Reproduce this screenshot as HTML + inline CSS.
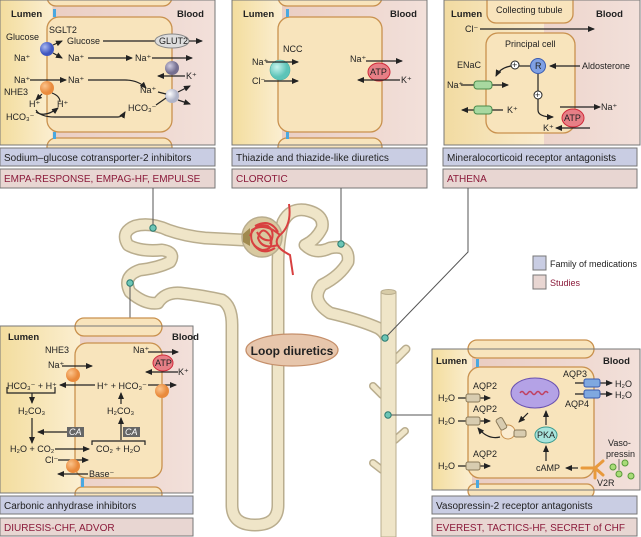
<!DOCTYPE html>
<html><head><meta charset="utf-8"><style>
html,body{margin:0;padding:0;background:#fff;}
svg{display:block;font-family:"Liberation Sans",sans-serif;}
.t{font-size:9px;fill:#222;}
.b{font-size:9.5px;font-weight:bold;fill:#222;}
.lab{font-size:10px;fill:#222;}
.st{font-size:10px;fill:#8b1a3a;}
.ar{stroke:#222;stroke-width:1.2;fill:none;marker-end:url(#ah);}
.ln{stroke:#222;stroke-width:1.2;fill:none;}
.cell{fill:#f8e4bc;stroke:#c9914e;stroke-width:1.3;}
.tube{fill:none;stroke:#b9ad8e;stroke-width:13;stroke-linecap:round;stroke-linejoin:round;}
.tubei{fill:none;stroke:#efe5c8;stroke-width:10;stroke-linecap:round;stroke-linejoin:round;}
</style></head><body>
<svg width="641" height="537" viewBox="0 0 641 537" xmlns="http://www.w3.org/2000/svg">
<defs>
<marker id="ah" markerWidth="7" markerHeight="6" refX="6" refY="3" orient="auto" markerUnits="userSpaceOnUse"><path d="M0,0L7,3L0,6z" fill="#222"/></marker>
<linearGradient id="lum" x1="0" x2="1"><stop offset="0" stop-color="#f3dd9e"/><stop offset="1" stop-color="#fbeed0"/></linearGradient>
<linearGradient id="blo" x1="0" x2="1"><stop offset="0" stop-color="#e8c8bc"/><stop offset="1" stop-color="#f2e0da"/></linearGradient>
<radialGradient id="blue" cx=".35" cy=".35"><stop offset="0" stop-color="#a9b8f0"/><stop offset="1" stop-color="#3f56c0"/></radialGradient>
<radialGradient id="org" cx=".35" cy=".35"><stop offset="0" stop-color="#fbc48c"/><stop offset="1" stop-color="#e98a3c"/></radialGradient>
<radialGradient id="gry" cx=".35" cy=".35"><stop offset="0" stop-color="#cfcbe0"/><stop offset="1" stop-color="#756f90"/></radialGradient>
<radialGradient id="wht" cx=".35" cy=".35"><stop offset="0" stop-color="#fff"/><stop offset="1" stop-color="#b0b4c8"/></radialGradient>
<radialGradient id="tea" cx=".35" cy=".35"><stop offset="0" stop-color="#c8f4ee"/><stop offset="1" stop-color="#5cc4b8"/></radialGradient>
</defs>

<!-- ============ TOP LEFT PANEL ============ -->
<rect x="0" y="0" width="215" height="145" fill="url(#blo)" stroke="#777"/>
<rect x="0.5" y="0.5" width="52" height="144" fill="url(#lum)"/>
<rect x="47" y="-12" width="125" height="18" rx="9" class="cell"/>
<rect x="47" y="17" width="125" height="115" rx="12" class="cell"/>
<rect x="47" y="138" width="125" height="20" rx="9" class="cell"/>
<rect x="0" y="0" width="215" height="145" fill="none" stroke="#777"/>
<rect x="53" y="9" width="3" height="8" fill="#4aa8e0"/><rect x="53" y="132" width="3" height="7" fill="#4aa8e0"/>
<text x="11" y="17" class="b">Lumen</text><text x="177" y="17" class="b">Blood</text>
<text x="49" y="33" class="t">SGLT2</text>
<text x="6" y="40" class="t">Glucose</text>
<text x="67" y="44" class="t">Glucose</text>
<line x1="103" y1="41" x2="155" y2="41" class="ln"/>
<ellipse cx="172" cy="41" rx="17" ry="7" fill="#ddd" stroke="#888"/><text x="159" y="44" class="t">GLUT2</text>
<line x1="189" y1="41" x2="202" y2="41" class="ar"/>
<text x="14" y="61" class="t">Na⁺</text>
<circle cx="47" cy="49" r="7" fill="url(#blue)"/>
<path d="M53,45 L62,41" class="ar"/><path d="M53,53 L62,58" class="ar"/>
<text x="68" y="61" class="t">Na⁺</text><line x1="88" y1="58" x2="132" y2="58" class="ar"/>
<text x="135" y="61" class="t">Na⁺</text><line x1="152" y1="58" x2="192" y2="58" class="ar"/>
<circle cx="172" cy="68" r="7" fill="url(#gry)"/>
<line x1="185" y1="76" x2="158" y2="76" class="ar"/><text x="186" y="79" class="t">K⁺</text>
<text x="14" y="83" class="t">Na⁺</text><line x1="30" y1="80" x2="66" y2="80" class="ar"/>
<text x="68" y="83" class="t">Na⁺</text><path d="M88,80 L125,80 Q138,80 146,88" class="ar"/>
<circle cx="47" cy="88" r="7" fill="url(#org)"/>
<text x="4" y="95" class="t">NHE3</text>
<text x="140" y="93" class="t">Na⁺</text>
<circle cx="172" cy="96" r="7" fill="url(#wht)"/>
<path d="M158,92 L166,94" class="ln"/><path d="M178,92 L190,86" class="ar"/><path d="M178,100 L190,104" class="ar"/>
<path d="M42,94 L36,100" class="ar"/><path d="M52,93 Q60,96 60,102" class="ln"/>
<text x="29" y="107" class="t">H⁺</text><text x="57" y="107" class="t">H⁺</text>
<text x="6" y="120" class="t">HCO₃⁻</text>
<path d="M36,110 Q40,117 55,117 L118,117 Q122,117 125,112" class="ar"/>
<path d="M36,112 Q45,118 58,108" class="ar"/>
<text x="128" y="111" class="t">HCO₃⁻</text><path d="M156,105 L166,98" class="ln"/>
<rect x="0" y="148" width="215" height="18" fill="#c9cde3" stroke="#777"/><text x="4" y="161" class="lab">Sodium–glucose cotransporter-2 inhibitors</text>
<rect x="0" y="169" width="215" height="19" fill="#e8d6d2" stroke="#777"/><text x="4" y="182" class="st">EMPA-RESPONSE, EMPAG-HF, EMPULSE</text>

<!-- ============ TOP MIDDLE PANEL ============ -->
<rect x="232" y="0" width="195" height="145" fill="url(#blo)"/>
<rect x="232" y="0" width="50" height="145" fill="url(#lum)"/>
<rect x="278" y="-12" width="104" height="18" rx="9" class="cell"/>
<rect x="278" y="17" width="104" height="115" rx="12" class="cell"/>
<rect x="278" y="138" width="104" height="20" rx="9" class="cell"/>
<rect x="232" y="0" width="195" height="145" fill="none" stroke="#777"/>
<rect x="286" y="9" width="3" height="8" fill="#4aa8e0"/><rect x="286" y="132" width="3" height="7" fill="#4aa8e0"/>
<text x="243" y="17" class="b">Lumen</text><text x="390" y="17" class="b">Blood</text>
<text x="283" y="52" class="t">NCC</text>
<circle cx="280" cy="70" r="10" fill="url(#tea)" stroke="#4ab0a4" stroke-width=".6"/>
<text x="252" y="65" class="t">Na⁺</text><line x1="266" y1="62" x2="298" y2="62" class="ar"/>
<text x="252" y="84" class="t">Cl⁻</text><line x1="264" y1="81" x2="298" y2="81" class="ar"/>
<text x="350" y="62" class="t">Na⁺</text><line x1="366" y1="61" x2="402" y2="61" class="ar"/>
<ellipse cx="379" cy="72" rx="11" ry="9" fill="#e77f86" stroke="#d02a3a"/><text x="370" y="75" class="t">ATP</text>
<line x1="400" y1="80" x2="358" y2="80" class="ar"/><text x="401" y="83" class="t">K⁺</text>
<rect x="232" y="148" width="195" height="18" fill="#c9cde3" stroke="#777"/><text x="236" y="161" class="lab">Thiazide and thiazide-like diuretics</text>
<rect x="232" y="169" width="195" height="19" fill="#e8d6d2" stroke="#777"/><text x="236" y="182" class="st">CLOROTIC</text>

<!-- ============ TOP RIGHT PANEL ============ -->
<rect x="444" y="0" width="196" height="145" fill="url(#blo)"/>
<rect x="444" y="0" width="100" height="145" fill="url(#lum)" opacity=".9"/>
<rect x="487" y="-10" width="86" height="33" rx="9" class="cell"/>
<rect x="486" y="33" width="89" height="100" rx="12" class="cell"/>
<rect x="444" y="0" width="196" height="145" fill="none" stroke="#777"/>
<text x="451" y="17" class="b">Lumen</text><text x="596" y="17" class="b">Blood</text>
<text x="496" y="13" class="t">Collecting tubule</text>
<text x="465" y="32" class="t">Cl⁻</text><line x1="480" y1="29" x2="594" y2="29" class="ar"/>
<text x="505" y="47" class="t">Principal cell</text>
<circle cx="538" cy="66" r="7.5" fill="#7fa0e4" stroke="#3a5cb0"/><text x="535" y="69" class="t">R</text>
<line x1="580" y1="66" x2="550" y2="66" class="ar"/><text x="582" y="69" class="t">Aldosterone</text>
<circle cx="515" cy="65" r="4" fill="#fff" stroke="#222"/><text x="512" y="68" class="t" font-size="7">+</text>
<path d="M530,66 L519,66" class="ln"/><path d="M511,66 Q500,68 496,76" class="ar"/>
<text x="457" y="68" class="t">ENaC</text>
<text x="447" y="88" class="t">Na⁺</text><line x1="461" y1="85" x2="508" y2="85" class="ar"/>
<rect x="474" y="81" width="18" height="8" rx="3" fill="#a8d8a0" stroke="#4a8a4a"/>
<line x1="503" y1="110" x2="462" y2="110" class="ar"/>
<rect x="474" y="106" width="18" height="8" rx="3" fill="#a8d8a0" stroke="#4a8a4a"/><text x="507" y="113" class="t">K⁺</text>
<line x1="538" y1="74" x2="538" y2="91" class="ln"/>
<circle cx="538" cy="95" r="4" fill="#fff" stroke="#222"/><text x="535" y="98" class="t" font-size="7">+</text>
<path d="M538,99 L538,110 Q538,117 553,117" class="ar"/>
<line x1="560" y1="107" x2="600" y2="107" class="ar"/><text x="601" y="110" class="t">Na⁺</text>
<ellipse cx="573" cy="118" rx="11" ry="9" fill="#e77f86" stroke="#d02a3a"/><text x="564" y="121" class="t">ATP</text>
<line x1="590" y1="128" x2="556" y2="128" class="ar"/><text x="543" y="131" class="t">K⁺</text>
<rect x="443" y="148" width="194" height="18" fill="#c9cde3" stroke="#777"/><text x="447" y="161" class="lab">Mineralocorticoid receptor antagonists</text>
<rect x="443" y="169" width="194" height="19" fill="#e8d6d2" stroke="#777"/><text x="447" y="182" class="st">ATHENA</text>

<!-- ============ NEPHRON ============ -->
<g>
<path d="M243,240 L205,238 Q185,236 168,230 Q150,222 135,226 Q120,232 128,245 Q140,252 162,250 Q176,252 170,262 Q158,268 140,270 Q122,276 130,292 Q145,305 158,303 Q165,292 180,293 Q205,296 222,300 Q232,306 232,325 L232,505 Q232,525 255,525 Q278,525 278,505 L278,265 Q278,240 283,222 Q290,208 305,210 Q325,214 322,228 Q316,240 305,245 Q315,255 330,248 Q350,244 348,262 Q340,276 322,285 Q310,300 330,313 Q360,320 378,328 Q388,334 388,345" class="tube"/>
<path d="M243,240 L205,238 Q185,236 168,230 Q150,222 135,226 Q120,232 128,245 Q140,252 162,250 Q176,252 170,262 Q158,268 140,270 Q122,276 130,292 Q145,305 158,303 Q165,292 180,293 Q205,296 222,300 Q232,306 232,325 L232,505 Q232,525 255,525 Q278,525 278,505 L278,265 Q278,240 283,222 Q290,208 305,210 Q325,214 322,228 Q316,240 305,245 Q315,255 330,248 Q350,244 348,262 Q340,276 322,285 Q310,300 330,313 Q360,320 378,328 Q388,334 388,345" class="tubei"/>
<!-- collecting duct branches -->
<g stroke-linecap="round">
<path d="M395,360 L406,349" stroke="#b9ad8e" stroke-width="9"/><path d="M395,360 L406,349" stroke="#efe5c8" stroke-width="6"/>
<path d="M382,395 L373,386" stroke="#b9ad8e" stroke-width="8"/><path d="M382,395 L373,386" stroke="#efe5c8" stroke-width="5"/>
<path d="M395,440 L405,431" stroke="#b9ad8e" stroke-width="8"/><path d="M395,440 L405,431" stroke="#efe5c8" stroke-width="5"/>
<path d="M382,470 L373,463" stroke="#b9ad8e" stroke-width="8"/><path d="M382,470 L373,463" stroke="#efe5c8" stroke-width="5"/>
</g>
<rect x="381" y="292" width="15" height="245" fill="#efe5c8" stroke="#b9ad8e"/>
<ellipse cx="388.5" cy="292" rx="7.5" ry="2.5" fill="#d8cca8" stroke="#b9ad8e"/>
<!-- glomerulus -->
<circle cx="262" cy="237" r="20" fill="#d8c9a0" stroke="#b9ad8e" stroke-width="1.5"/>
<path d="M243,234 L250,228 L250,246 L243,242z" fill="#a08a50"/>
<g fill="none" stroke="#d84040" stroke-width="2">
<path d="M289,204 Q292,225 280,235 Q270,245 290,255 L293,275"/>
<path d="M280,235 Q265,222 252,230 Q248,245 262,250 Q275,250 270,236 Q262,224 258,238 Q262,250 278,245"/>
<path d="M255,226 Q270,218 278,232 M254,245 Q262,256 275,248"/>
<path d="M250,236 Q256,222 268,226 Q276,232 270,244 M257,232 Q262,242 272,240"/>
</g>
</g>
<!-- connector lines -->
<g stroke="#555" stroke-width="1" fill="none">
<line x1="153" y1="188" x2="153" y2="228"/>
<line x1="130" y1="283" x2="130" y2="326"/>
<line x1="341" y1="188" x2="341" y2="244"/>
<path d="M468,188 L468,252 L385,338"/>
<line x1="388" y1="415" x2="432" y2="415"/>
</g>
<g fill="#6cc6b6" stroke="#2b7a70" stroke-width="1">
<circle cx="153" cy="228" r="3.2"/><circle cx="130" cy="283" r="3.2"/><circle cx="341" cy="244" r="3.2"/><circle cx="385" cy="338" r="3.2"/><circle cx="388" cy="415" r="3.2"/>
</g>
<ellipse cx="292" cy="350" rx="46" ry="16" fill="#e7c6ac" stroke="#c58f6a" stroke-width="1.3"/>
<text x="292" y="355" text-anchor="middle" font-size="12" font-weight="bold" fill="#222">Loop diuretics</text>

<!-- legend -->
<rect x="533" y="256" width="13" height="14" fill="#c9cde3" stroke="#777"/><text x="550" y="267" class="t">Family of medications</text>
<rect x="533" y="275" width="13" height="14" fill="#e8d6d2" stroke="#777"/><text x="550" y="286" class="t" style="fill:#8b1a3a">Studies</text>

<!-- ============ BOTTOM LEFT PANEL ============ -->
<rect x="0" y="326" width="193" height="167" fill="url(#blo)"/>
<rect x="0" y="326" width="80" height="167" fill="url(#lum)"/>
<rect x="75" y="318" width="87" height="18" rx="9" class="cell"/>
<rect x="75" y="343" width="87" height="135" rx="12" class="cell"/>
<rect x="75" y="487" width="87" height="14" rx="7" class="cell"/>
<rect x="0" y="326" width="193" height="167" fill="none" stroke="#777"/>
<rect x="81" y="478" width="3" height="9" fill="#4aa8e0"/>
<text x="172" y="340" class="b">Blood</text><text x="8" y="340" class="b">Lumen</text>
<text x="45" y="353" class="t">NHE3</text>
<text x="48" y="368" class="t">Na⁺</text><line x1="62" y1="366" x2="92" y2="366" class="ar"/>
<circle cx="73" cy="375" r="7" fill="url(#org)"/>
<text x="133" y="353" class="t">Na⁺</text><line x1="148" y1="352" x2="178" y2="352" class="ar"/>
<ellipse cx="163" cy="363" rx="10" ry="8" fill="#e77f86" stroke="#d02a3a"/><text x="155" y="366" class="t">ATP</text>
<line x1="178" y1="372" x2="146" y2="372" class="ar"/><text x="178" y="375" class="t">K⁺</text>
<text x="7" y="389" class="t">HCO₃⁻ + H⁺</text>
<line x1="95" y1="385" x2="60" y2="385" class="ar"/>
<text x="97" y="389" class="t">H⁺ + HCO₃⁻</text><line x1="148" y1="385" x2="176" y2="385" class="ar"/>
<circle cx="162" cy="391" r="7" fill="url(#org)"/>
<path d="M7,387 L7,393 L55,393 L55,387" class="ln"/>
<line x1="32" y1="393" x2="32" y2="403" class="ar"/>
<text x="18" y="414" class="t">H₂CO₃</text><text x="107" y="414" class="t">H₂CO₃</text>
<line x1="121" y1="404" x2="121" y2="393" class="ar"/>
<line x1="121" y1="440" x2="121" y2="418" class="ar"/>
<line x1="32" y1="418" x2="32" y2="443" class="ar"/>
<rect x="67" y="427" width="17" height="10" fill="#666"/><text x="69" y="435" class="t" style="fill:#fff;font-style:italic">CA</text>
<line x1="67" y1="432" x2="38" y2="432" class="ar"/>
<rect x="123" y="427" width="17" height="10" fill="#666"/><text x="125" y="435" class="t" style="fill:#fff;font-style:italic">CA</text>
<text x="10" y="452" class="t">H₂O + CO₂</text><line x1="55" y1="449" x2="89" y2="449" class="ar"/>
<text x="96" y="452" class="t">CO₂ + H₂O</text>
<path d="M92,445 L92,441 L145,441 L145,445" class="ln"/>
<text x="45" y="463" class="t">Cl⁻</text><line x1="58" y1="460" x2="88" y2="460" class="ar"/>
<circle cx="73" cy="466" r="7" fill="url(#org)"/>
<line x1="88" y1="474" x2="58" y2="474" class="ar"/><text x="89" y="477" class="t">Base⁻</text>
<rect x="0" y="496" width="193" height="18" fill="#c9cde3" stroke="#777"/><text x="4" y="509" class="lab">Carbonic anhydrase inhibitors</text>
<rect x="0" y="518" width="193" height="18" fill="#e8d6d2" stroke="#777"/><text x="4" y="531" class="st">DIURESIS-CHF, ADVOR</text>

<!-- ============ BOTTOM RIGHT PANEL ============ -->
<rect x="432" y="349" width="208" height="141" fill="url(#blo)"/>
<rect x="432" y="349" width="40" height="141" fill="url(#lum)"/>
<rect x="468" y="340" width="126" height="18" rx="9" class="cell"/>
<rect x="468" y="367" width="126" height="111" rx="12" class="cell"/>
<rect x="468" y="484" width="126" height="14" rx="7" class="cell"/>
<rect x="432" y="349" width="208" height="141" fill="none" stroke="#777"/>
<rect x="476" y="359" width="3" height="8" fill="#4aa8e0"/><rect x="476" y="480" width="3" height="8" fill="#4aa8e0"/>
<text x="436" y="364" class="b">Lumen</text><text x="603" y="364" class="b">Blood</text>
<g>
<text x="473" y="389" class="t">AQP2</text><text x="438" y="401" class="t">H₂O</text>
<line x1="458" y1="398" x2="490" y2="398" class="ar"/><rect x="466" y="394" width="14" height="8" rx="2" fill="#d8ccb0" stroke="#8a7a5a"/>
<text x="473" y="412" class="t">AQP2</text><text x="438" y="424" class="t">H₂O</text>
<line x1="458" y1="421" x2="490" y2="421" class="ar"/><rect x="466" y="417" width="14" height="8" rx="2" fill="#d8ccb0" stroke="#8a7a5a"/>
<text x="473" y="457" class="t">AQP2</text><text x="438" y="469" class="t">H₂O</text>
<line x1="458" y1="466" x2="490" y2="466" class="ar"/><rect x="466" y="462" width="14" height="8" rx="2" fill="#d8ccb0" stroke="#8a7a5a"/>
</g>
<ellipse cx="535" cy="393" rx="24" ry="15" fill="#b4a2e6" stroke="#6a52b0"/>
<path d="M520,393 q2,-3 4,0 q2,3 4,0 q2,-3 4,0 q2,3 4,0 q2,-3 4,0 q2,3 4,0 q2,-3 4,0" stroke="#c04060" stroke-width="1.5" fill="none"/>
<line x1="528" y1="413" x2="519" y2="422" class="ar"/>
<circle cx="508" cy="432" r="7" fill="#fbecd0" stroke="#c9914e"/>
<rect x="514" y="430" width="12" height="7" rx="2" fill="#d8ccb0" stroke="#8a7a5a"/>
<rect x="498" y="418" width="7" height="12" rx="2" fill="#d8ccb0" stroke="#8a7a5a" transform="rotate(-30 501 424)"/>
<path d="M500,437 Q488,440 478,428" class="ar"/>
<ellipse cx="546" cy="435" rx="11" ry="8" fill="#a8e4dc" stroke="#3a9a8e"/><text x="537" y="438" class="t">PKA</text>
<line x1="546" y1="425" x2="546" y2="411" class="ar"/>
<line x1="546" y1="461" x2="546" y2="446" class="ar"/>
<text x="536" y="471" class="t">cAMP</text><line x1="578" y1="468" x2="566" y2="468" class="ar"/>
<path d="M582,468 L595,468 M595,468 L603,461 M595,468 L603,475 M595,468 L595,478" stroke="#e89a3c" stroke-width="3" fill="none" stroke-linecap="round"/>
<text x="597" y="486" class="t">V2R</text>
<text x="608" y="446" class="t">Vaso-</text><text x="606" y="457" class="t">pressin</text>
<g fill="#a8dc78" stroke="#5a9a3a"><circle cx="613" cy="467" r="3"/><circle cx="625" cy="463" r="3"/><circle cx="619" cy="474" r="3"/><circle cx="631" cy="476" r="3"/></g>
<line x1="619" y1="459" x2="619" y2="470" stroke="#555" stroke-width=".8"/>
<text x="563" y="377" class="t">AQP3</text><text x="565" y="407" class="t">AQP4</text>
<line x1="575" y1="383" x2="612" y2="383" class="ar"/><rect x="584" y="379" width="16" height="8" rx="2" fill="#7fa8e0" stroke="#3a5cb0"/>
<line x1="575" y1="394" x2="612" y2="394" class="ar"/><rect x="584" y="390" width="16" height="8" rx="2" fill="#7fa8e0" stroke="#3a5cb0"/>
<text x="615" y="387" class="t">H₂O</text><text x="615" y="398" class="t">H₂O</text>
<rect x="432" y="496" width="205" height="18" fill="#c9cde3" stroke="#777"/><text x="436" y="509" class="lab">Vasopressin-2 receptor antagonists</text>
<rect x="432" y="518" width="205" height="18" fill="#e8d6d2" stroke="#777"/><text x="436" y="531" class="st">EVEREST, TACTICS-HF, SECRET of CHF</text>
</svg>
</body></html>
